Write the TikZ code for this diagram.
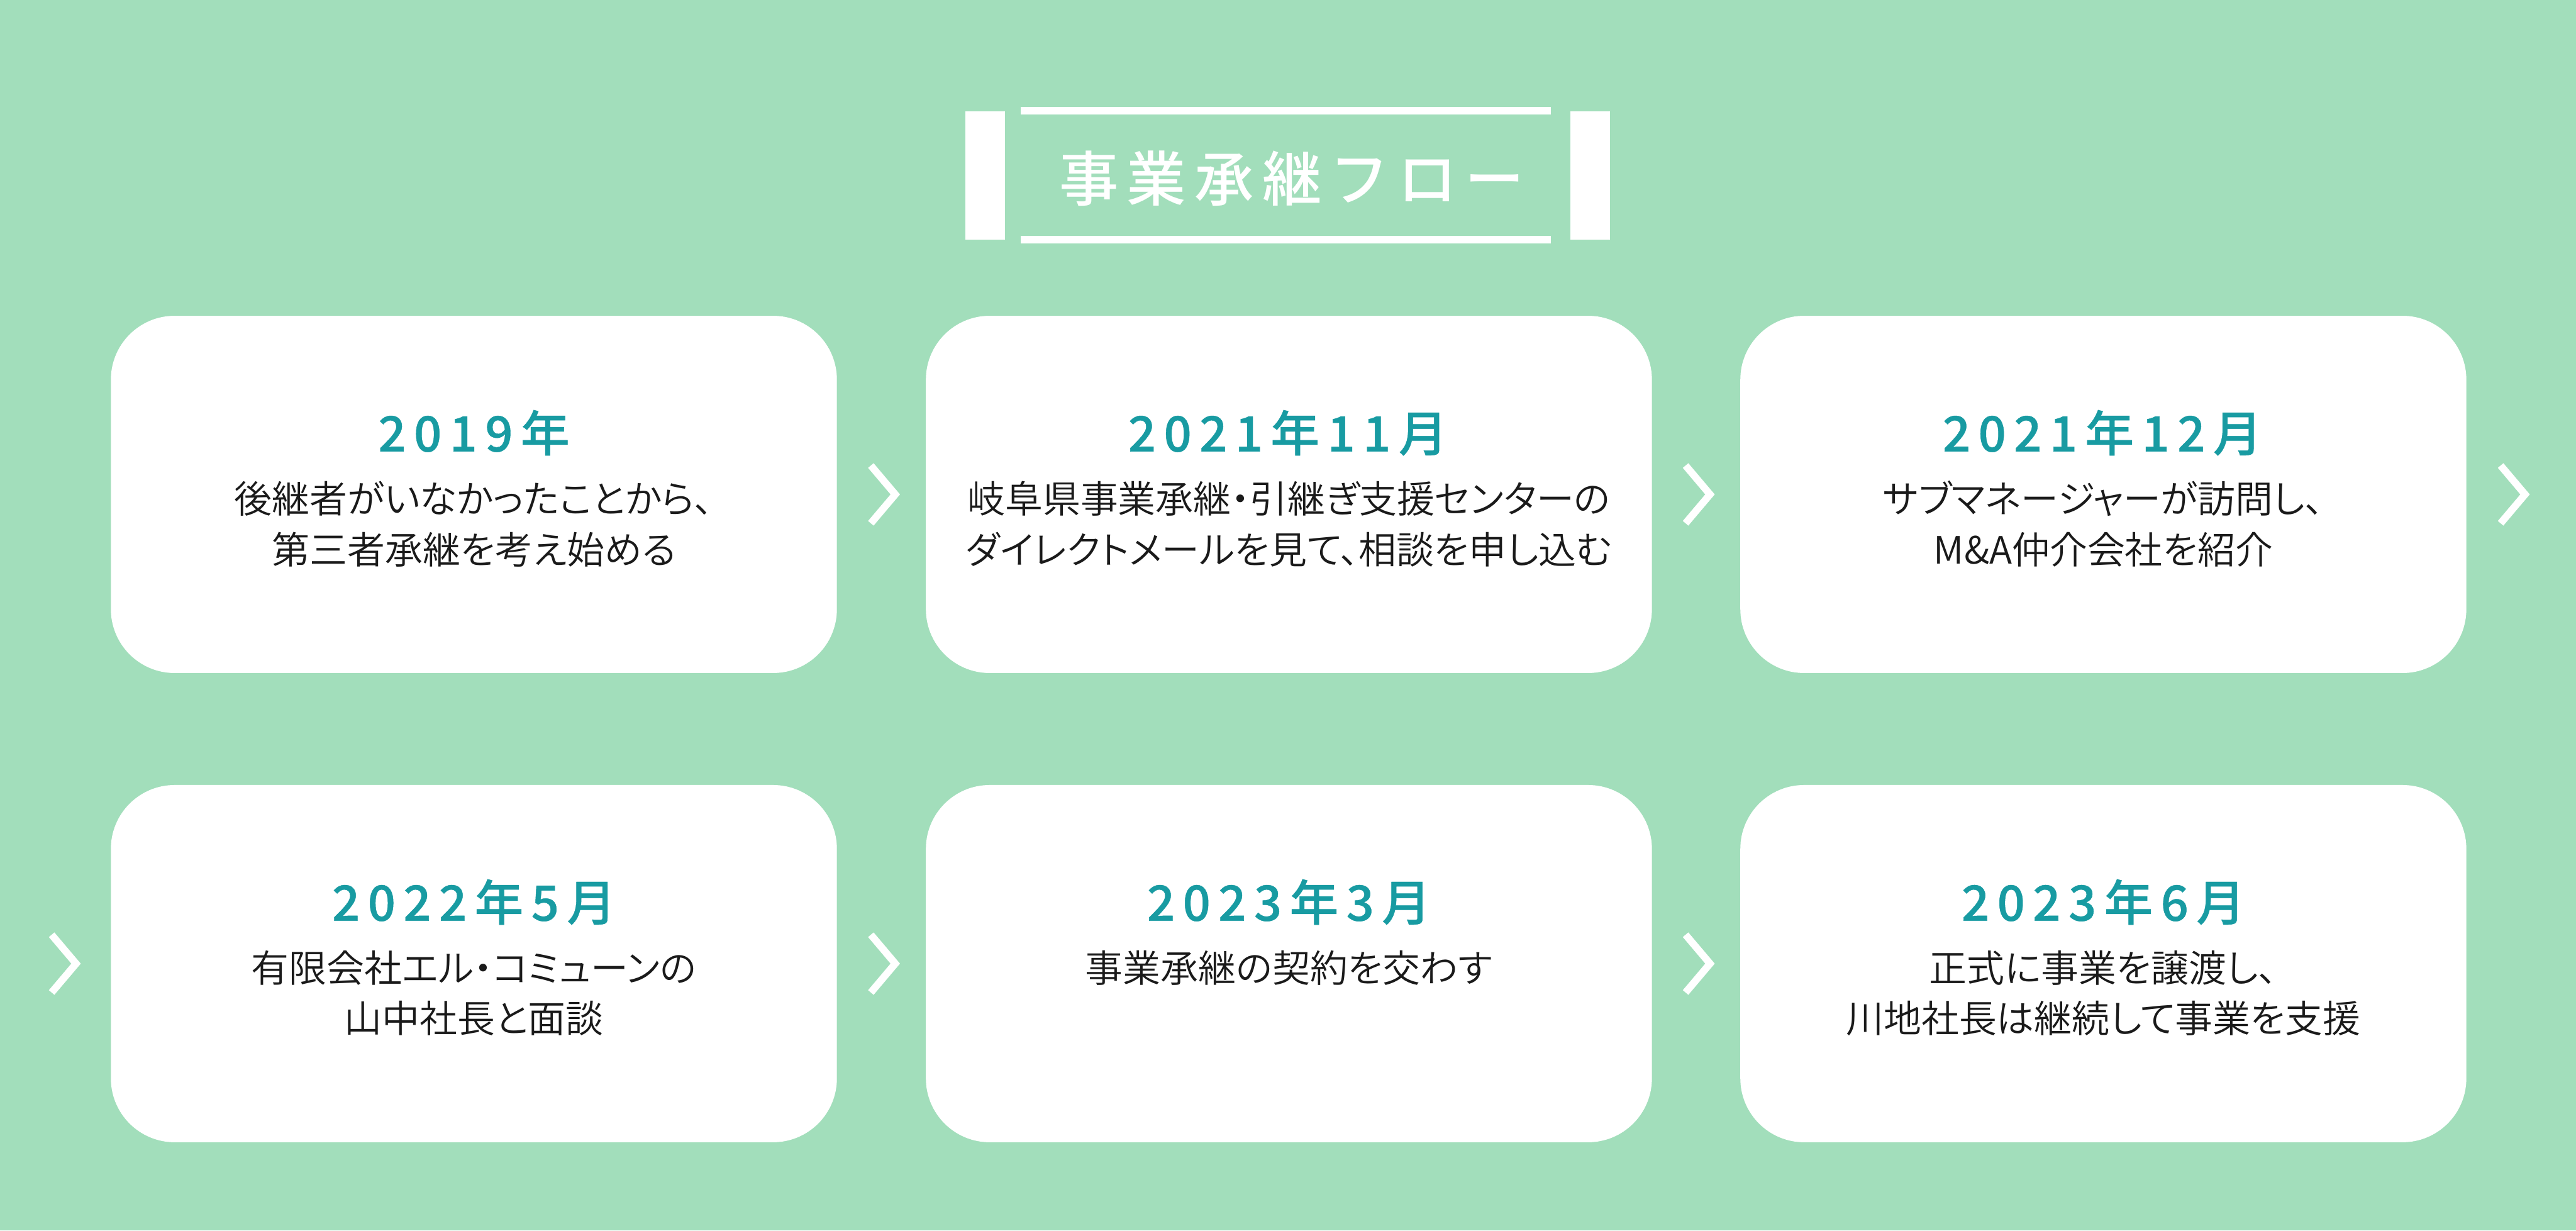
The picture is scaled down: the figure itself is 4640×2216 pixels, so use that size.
\documentclass[tikz,border=0pt]{standalone}
\usepackage{fontspec}
\IfFontExistsTF{Noto Sans CJK JP DemiLight}
    {\setmainfont{Noto Sans CJK JP DemiLight}[RawFeature=+palt]}
    {\IfFontExistsTF{Noto Sans CJK JP Light}
        {\setmainfont{Noto Sans CJK JP Light}[RawFeature=+palt]}
        {\setmainfont{Noto Sans CJK JP}[RawFeature=+palt]}}
\IfFontExistsTF{Noto Sans CJK JP Medium}
    {\newfontfamily\yearfont{Noto Sans CJK JP Medium}[LetterSpace=16, FakeBold=0.6]
     \newfontfamily\titlefont{Noto Sans CJK JP Medium}[LetterSpace=14]}
    {\newfontfamily\yearfont{Noto Sans CJK JP Bold}[LetterSpace=16]
     \newfontfamily\titlefont{Noto Sans CJK JP}[LetterSpace=14, FakeBold=1]}
\usepackage{xcolor}
\usetikzlibrary{calc, positioning}

\definecolor{flowbg}{RGB}{162,222,187}
\definecolor{flowteal}{RGB}{24,155,162}
\definecolor{flowink}{RGB}{26,26,26}

\tikzset{
    card/.style={fill=white, rounded corners=1.15cm, minimum width=13.07cm, minimum height=6.43cm, inner sep=0pt, anchor=north west},
    yearlabel/.style={text=flowteal, font=\yearfont\fontsize{25}{30}\selectfont, anchor=base, inner sep=0pt},
    steptext/.style={text=flowink, font=\fontsize{19.3}{25.9}\selectfont, align=center, anchor=base, inner sep=0pt},
    chevron/.style={white, line width=3.7pt, miter limit=10}
}

\begin{document}
\begin{tikzpicture}[x=0.01cm, y=-0.01cm]
    \fill[flowbg] (0,0) rectangle (4640,2216);
    \useasboundingbox (0,0) rectangle (4640,2216);

    % heading
    \node[text=white, font=\titlefont\fontsize{30.4}{36}\selectfont, anchor=base, inner sep=0pt] (title) at (2327,362) {事業承継フロー};
    \fill[white] (1739,200) rectangle (1810,432);
    \fill[white] (2829,200) rectangle (2900,432);
    \fill[white] (1839,193) rectangle (2793,206);
    \fill[white] (1839,425) rectangle (2793,438);

    % first row (base of a two-line text is its last line)
    \node[card] (s1) at (199,568) {};
    \node[card] (s2) at (1667,568) {};
    \node[card] (s3) at (3134,568) {};
    \node[yearlabel] (y1) at ($(s1.north)+(0,245)$) {2019年};
    \node[yearlabel] (y2) at ($(s2.north)+(-2,245)$) {2021年11月};
    \node[yearlabel] (y3) at ($(s3.north)+(-2,245)$) {2021年12月};
    \node[steptext] (t1) at ($(s1.north)+(0,447)$) {後継者がいなかったことから、\\第三者承継を考え始める};
    \node[steptext] (t2) at ($(s2.north)+(0,447)$) {岐阜県事業承継・引継ぎ支援センターの\\ダイレクトメールを見て、相談を申し込む};
    \node[steptext] (t3) at ($(s3.north)+(0,447)$) {サブマネージャーが訪問し、\\M\&A仲介会社を紹介};

    % second row
    \node[card] (s4) at (199,1413) {};
    \node[card] (s5) at (1667,1413) {};
    \node[card] (s6) at (3134,1413) {};
    \node[yearlabel] (y4) at ($(s4.north)+(0,245)$) {2022年5月};
    \node[yearlabel] (y5) at ($(s5.north)+(0,245)$) {2023年3月};
    \node[yearlabel] (y6) at ($(s6.north)+(0,245)$) {2023年6月};
    \node[steptext] (t4) at ($(s4.north)+(0,447)$) {有限会社エル・コミューンの\\山中社長と面談};
    \node[steptext] (t5) at ($(s5.north)+(0,356)$) {事業承継の契約を交わす};
    \node[steptext] (t6) at ($(s6.north)+(0,447)$) {正式に事業を譲渡し、\\川地社長は継続して事業を支援};

    % chevrons between the cards
    \draw[chevron] ($(s1.east)!0.5!(s2.west)+(-19,-52)$) -- ++(44,52) -- ++(-44,52);
    \draw[chevron] ($(s2.east)!0.5!(s3.west)+(-19,-52)$) -- ++(44,52) -- ++(-44,52);
    \draw[chevron] ($(s3.east)+(61,-52)$) -- ++(44,52) -- ++(-44,52);
    \draw[chevron] ($(s4.west)+(-106,-52)$) -- ++(44,52) -- ++(-44,52);
    \draw[chevron] ($(s4.east)!0.5!(s5.west)+(-19,-52)$) -- ++(44,52) -- ++(-44,52);
    \draw[chevron] ($(s5.east)!0.5!(s6.west)+(-19,-52)$) -- ++(44,52) -- ++(-44,52);
\end{tikzpicture}
\end{document}
